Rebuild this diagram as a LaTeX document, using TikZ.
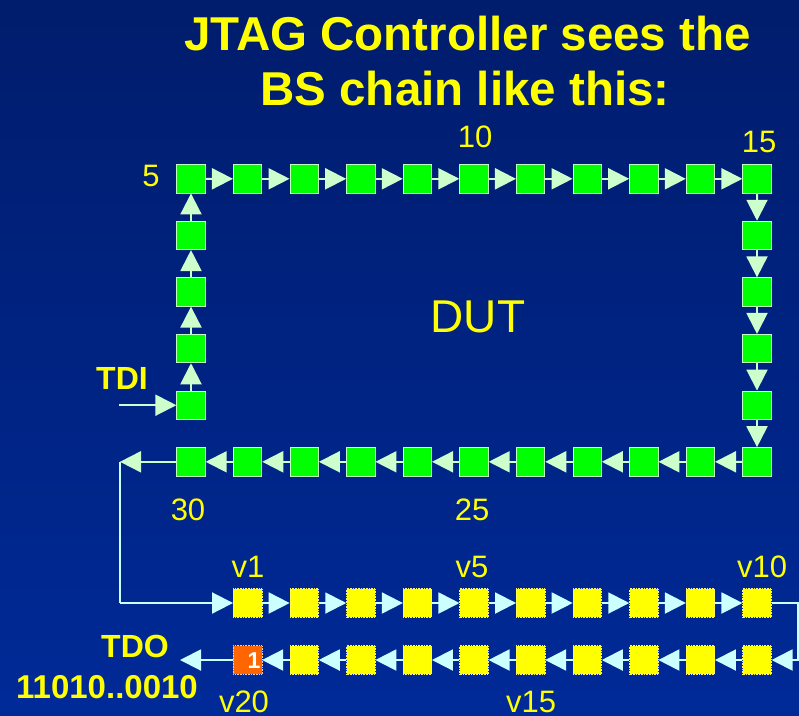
\documentclass[tikz,border=0pt]{standalone}
\usepackage{fontspec}
\setmainfont{Liberation Sans}
\usetikzlibrary{arrows.meta}
\definecolor{bgtop}{RGB}{0,28,108}
\definecolor{bgbot}{RGB}{0,42,152}
\definecolor{gfill}{RGB}{0,255,0}
\definecolor{gedge}{RGB}{190,255,190}
\definecolor{gline}{RGB}{204,255,204}
\definecolor{cline}{RGB}{204,255,255}
\definecolor{yfill}{RGB}{255,255,0}
\definecolor{ofill}{RGB}{255,102,0}
\begin{document}
\begin{tikzpicture}[x=1pt,y=-1pt,
  gbox/.style={draw=gedge, fill=gfill, line width=0.8pt, minimum size=28.5pt, inner sep=0pt},
  ybox/.style={draw=yellow!60!white, densely dotted, fill=yfill, line width=0.6pt, minimum size=28.5pt, inner sep=0pt},
  obox/.style={draw=orange!40!white, densely dotted, fill=ofill, line width=0.6pt, minimum size=28.5pt, inner sep=0pt},
  gconn/.style={draw=gline, line width=2pt, -{Triangle[length=21pt,width=21pt]}},
  cconn/.style={draw=cline, line width=2pt, -{Triangle[length=21pt,width=21pt]}},
  title/.style={text=yfill, font=\fontsize{47.5}{50}\selectfont\bfseries, inner sep=0pt, anchor=base},
  big/.style={text=yfill, font=\fontsize{46}{50}\selectfont, inner sep=0pt, anchor=base},
  num/.style={text=yfill, font=\fontsize{31}{34}\selectfont, inner sep=0pt, anchor=base},
  bold/.style={text=yfill, font=\fontsize{32}{34}\selectfont\bfseries, inner sep=0pt, anchor=base}
]
\useasboundingbox (0,0) rectangle (799,715);
\shade[top color=bgtop, bottom color=bgbot] (0,0) rectangle (799,715);

% title
\node[title] (t1) at (467.5,50) {JTAG Controller sees the};
\node[title] (t2) at (465,105) {BS chain like this:};
\node[big] (dut) at (478,332) {DUT};

% green chain
\foreach \k in {1,...,5} \node[gbox] (g\k) at (191,{405.2-56.6*(\k-1)}) {};
\foreach \k in {6,...,15} \node[gbox] (g\k) at ({191+56.6*(\k-5)},178.8) {};
\foreach \k in {16,...,20} \node[gbox] (g\k) at (757,{178.8+56.6*(\k-15)}) {};
\foreach \k in {21,...,30} \node[gbox] (g\k) at ({757-56.6*(\k-20)},461.8) {};

\foreach \k [remember=\k as \p (initially 1)] in {2,...,5} \draw[gconn] (g\p.north) -- (g\k.south);
\draw[gconn] (g5.east) -- (g6.west);
\foreach \k [remember=\k as \p (initially 6)] in {7,...,15} \draw[gconn] (g\p.east) -- (g\k.west);
\draw[gconn] (g15.south) -- (g16.north);
\foreach \k [remember=\k as \p (initially 16)] in {17,...,20} \draw[gconn] (g\p.south) -- (g\k.north);
\draw[gconn] (g20.west) -- (g21.east);
\foreach \k [remember=\k as \p (initially 21)] in {22,...,30} \draw[gconn] (g\p.west) -- (g\k.east);

% yellow chain
\foreach \k in {1,...,10} \node[ybox] (v\k) at ({247.6+56.6*(\k-1)},603) {};
\foreach \k in {11,...,19} \node[ybox] (v\k) at ({757-56.6*(\k-11)},660) {};
\node[obox] (v20) at (247.6,660) {};
\node[text=white, font=\fontsize{23}{24}\selectfont\bfseries, inner sep=0pt, anchor=base east] (one) at (260.5,668) {1};

\foreach \k [remember=\k as \p (initially 1)] in {2,...,10} \draw[cconn] (v\p.east) -- (v\k.west);
\foreach \k [remember=\k as \p (initially 11)] in {12,...,20} \draw[cconn] (v\p.west) -- (v\k.east);

% wires
\coordinate (c1) at (120,461.8);
\coordinate (c2) at (120,603);
\coordinate (c3) at (798,603);
\coordinate (c4) at (798,660);
\coordinate (tdoend) at (180,660);
\coordinate (tdistart) at (119,405.2);
\draw[cline, line width=2pt] (c1) -- (c2);
\draw[gconn] (g30.west) -- (c1);
\draw[cconn] (c2) -- (v1.west);
\draw[cconn] (v10.east) -- (c3) -- (c4) -- (v11.east);
\draw[cconn] (v20.west) -- (tdoend);
\draw[gconn] (tdistart) -- (g1.west);

% labels
\node[num] (l5) at (151,186) {5};
\node[num] (l10) at (475,147) {10};
\node[num] (l15) at (759,152) {15};
\node[num] (l25) at (472,520) {25};
\node[num] (l30) at (188,520) {30};
\node[num] (lv1) at (248,577) {v1};
\node[num] (lv5) at (472,577) {v5};
\node[num] (lv10) at (762,577) {v10};
\node[num] (lv15) at (531,712) {v15};
\node[num] (lv20) at (244,712) {v20};
\node[bold, anchor=base west] (tdi) at (96,389) {TDI};
\node[bold] (tdo) at (135,657) {TDO};
\node[bold, font=\fontsize{33}{34}\selectfont\bfseries] (bits) at (107,698) {11010..0010};
\end{tikzpicture}
\end{document}
